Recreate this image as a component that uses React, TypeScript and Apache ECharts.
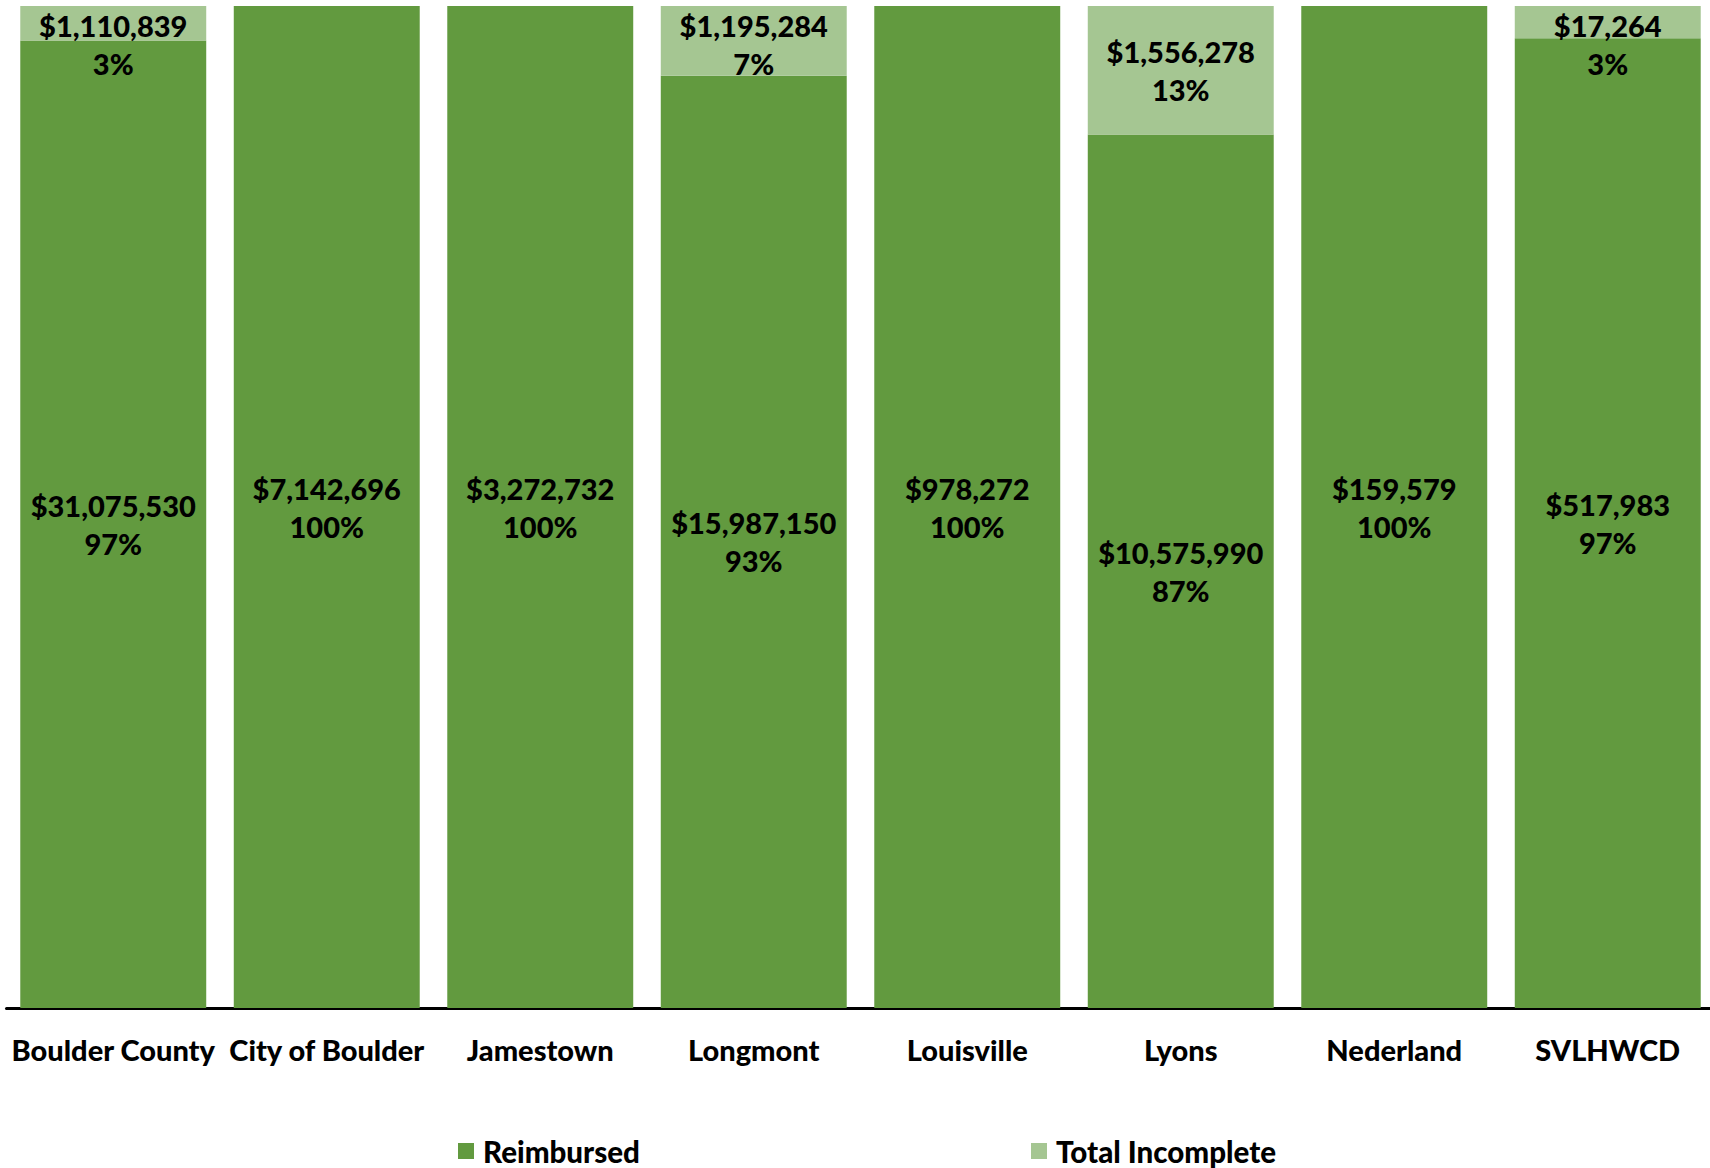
import React, { useEffect, useRef } from "react";
import * as echarts from "echarts";

const categories = [
  "Boulder County",
  "City of Boulder",
  "Jamestown",
  "Longmont",
  "Louisville",
  "Lyons",
  "Nederland",
  "SVLHWCD",
];
const reimbursed = [31075530, 7142696, 3272732, 15987150, 978272, 10575990, 159579, 517983];
const incomplete = [1110839, 0, 0, 1195284, 0, 1556278, 0, 17264];
const seriesNames = ["Reimbursed", "Total Incomplete"];

const DARK = "#629a3f";
const LIGHT = "#a5c692";
const FONT = "Lato";
const FS = 29;
const LH = 38;
const PLOT_TOP = 6;
const PLOT_H = 1002;

const money = (v: number) => "$" + v.toLocaleString("en-US");
const total = (i: number) => reimbursed[i] + incomplete[i];
const shareR = reimbursed.map((v, i) => (v / total(i)) * 100);
const shareI = incomplete.map((v, i) => (v / total(i)) * 100);

export default function App() {
  const ref = useRef<HTMLDivElement>(null);
  useEffect(() => {
    if (!ref.current) return;
    const chart = echarts.init(ref.current, null, { renderer: "svg" });
    const labelBase = {
      show: true,
      color: "#000",
      fontFamily: FONT,
      fontWeight: 900 as any,
      fontSize: FS,
      lineHeight: LH,
      textBorderWidth: 0,
    };
    const legendText = {
      fontFamily: FONT,
      fontWeight: 900 as any,
      fontSize: 29.5,
      color: "#000",
      padding: [0, 0, 0, 4],
    };
    chart.setOption({
      animation: false,
      grid: { left: 6.5, width: 1708, top: PLOT_TOP, height: PLOT_H },
      legend: [
        {
          data: [seriesNames[0]],
          left: 458,
          top: 1136,
          padding: 0,
          icon: "rect",
          itemWidth: 16,
          itemHeight: 16,
          textStyle: legendText,
        },
        {
          data: [seriesNames[1]],
          left: 1031,
          top: 1136,
          padding: 0,
          icon: "rect",
          itemWidth: 16,
          itemHeight: 16,
          textStyle: legendText,
        },
      ],
      xAxis: {
        type: "category",
        data: categories,
        axisLine: { show: true, lineStyle: { color: "#000", width: 3 } },
        axisTick: { show: false },
        axisLabel: {
          color: "#000",
          fontFamily: FONT,
          fontWeight: 900,
          fontSize: FS,
          margin: 27,
          interval: 0,
        },
      },
      yAxis: {
        type: "value",
        min: 0,
        max: 100,
        show: false,
        splitLine: { show: false },
      },
      series: [
        {
          name: seriesNames[0],
          type: "bar",
          stack: "total",
          barCategoryGap: "12.9%",
          itemStyle: { color: DARK },
          data: shareR,
          label: {
            ...labelBase,
            position: "inside",
            formatter: (p: any) =>
              `${money(reimbursed[p.dataIndex])}\n${Math.round(shareR[p.dataIndex])}%`,
          },
        },
        {
          name: seriesNames[1],
          type: "bar",
          stack: "total",
          barCategoryGap: "12.9%",
          itemStyle: { color: LIGHT },
          data: shareI.map((v) => {
            const segH = (v / 100) * PLOT_H;
            return {
              value: v,
              label: {
                show: v > 0,
                position: segH < 2 * LH ? "insideTop" : "inside",
                distance: 0,
              },
            };
          }),
          label: {
            ...labelBase,
            formatter: (p: any) =>
              `${money(incomplete[p.dataIndex])}\n${Math.round(shareI[p.dataIndex])}%`,
          },
        },
      ],
    });
    return () => chart.dispose();
  }, []);
  return (
    <div
      style={{
        position: "absolute",
        left: 0,
        top: 0,
        width: 1710,
        height: 1168,
        overflow: "hidden",
      }}
    >
      <div ref={ref} style={{ width: 1720, height: 1168 }} />
    </div>
  );
}
